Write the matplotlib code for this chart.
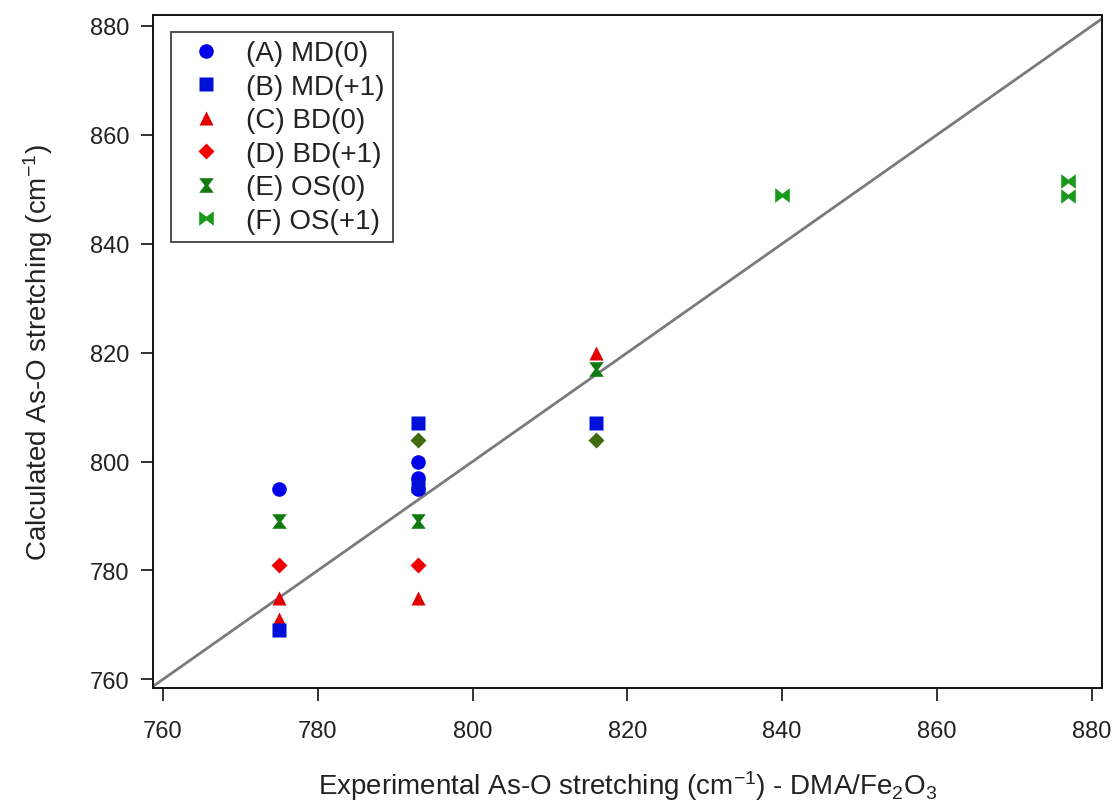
import numpy as np
import matplotlib
matplotlib.use('Agg')
import matplotlib.pyplot as plt

plt.rcParams['font.family'] = ['Liberation Sans', 'DejaVu Sans']
plt.rcParams['mathtext.default'] = 'regular'

# data (cm-1)
md0_x = [775, 793, 793, 793]
md0_y = [795, 800, 797, 795]
md1_x = [775, 793, 793, 816]
md1_y = [769, 807, 795.5, 807]
bd0_x = [775, 775, 793, 816]
bd0_y = [775, 771, 775, 820]
bd1_x = [775, 793]
bd1_y = [781, 781]
olive_x = [793, 816]      # overlapped diamonds, drawn olive in the original
olive_y = [804, 804]
os0_x = [775, 793, 816]
os0_y = [789, 789, 817]
os1_x = [840, 877, 877]
os1_y = [849, 851.5, 848.7]

labels = ['(A) MD(0)', '(B) MD(+1)', '(C) BD(0)', '(D) BD(+1)', '(E) OS(0)', '(F) OS(+1)']

hourglass = [(-1, 1), (1, 1), (0.25, 0), (1, -1), (-1, -1), (-0.25, 0), (-1, 1)]
bowtie = [(-1, 1), (0, 0.25), (1, 1), (1, -1), (0, -0.25), (-1, -1), (-1, 1)]

fig = plt.figure(figsize=(11.14, 8.04), dpi=100)
ax = fig.add_axes([0.1373, 0.143, 0.8517, 0.837])

ax.plot([758, 882], [758, 882], color='#7a7a7a', lw=2, zorder=1)

ms = 10.5
ax.plot(md0_x, md0_y, 'o', color='#0000e8', ms=ms, mec='none', label=labels[0])
ax.plot(bd0_x, bd0_y, '^', color='#e00000', ms=ms, mec='none', label=labels[2])
ax.plot(md1_x, md1_y, 's', color='#0010d8', ms=ms - 0.5, mec='none', label=labels[1])
ax.plot(bd1_x, bd1_y, 'D', color='#f00000', ms=ms - 2.5, mec='none', label=labels[3])
ax.plot(olive_x, olive_y, 'D', color='#3f6a10', ms=ms - 2.5, mec='none')
ax.plot(os0_x, os0_y, marker=hourglass, ls='none', color='#107a10', ms=ms, mec='none', label=labels[4])
ax.plot(os1_x, os1_y, marker=bowtie, ls='none', color='#1a9a1a', ms=ms, mec='none', label=labels[5])

ax.set_xlim(758.7, 881.3)
ax.set_ylim(758.4, 882)
ax.set_xticks(np.arange(760, 881, 20))
ax.set_yticks(np.arange(760, 881, 20))
ax.tick_params(direction='out', length=9, width=1.3, labelsize=17, colors='#222222')
ax.tick_params(axis='x', pad=14)
ax.tick_params(axis='y', pad=8)
for s in ax.spines.values():
    s.set_linewidth(1.4)
    s.set_color('#111111')

ax.set_xlabel(r'Experimental As-O stretching (cm$^{-1}$) - DMA/Fe$_2$O$_3$', fontsize=20, color='#222222', labelpad=19)
ax.set_ylabel(r'Calculated As-O stretching (cm$^{-1}$)', fontsize=20, color='#222222', labelpad=25)

h, l = ax.get_legend_handles_labels()
hd = dict(zip(l, h))
leg = ax.legend([hd[k] for k in labels], labels, loc='upper left', bbox_to_anchor=(0.019, 0.975),
                borderaxespad=0, fontsize=20, frameon=True, fancybox=False, edgecolor='#111111',
                labelspacing=0.27, handletextpad=0.5, borderpad=0.3, handlelength=1.9)
leg.get_frame().set_linewidth(1.3)
for t in leg.get_texts():
    t.set_color('#222222')

fig.savefig('out.png', dpi=100, facecolor='white')
